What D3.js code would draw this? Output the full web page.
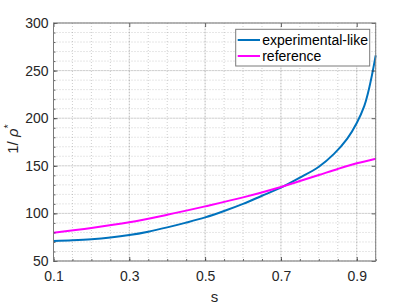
<!DOCTYPE html>
<html>
<head>
<meta charset="utf-8">
<script src="https://cdn.jsdelivr.net/npm/d3@7"></script>
<style>
  body { margin: 0; background: #fff; }
  svg { display: block; font-family: "Liberation Sans", Arial, sans-serif; }
</style>
</head>
<body>
<div id="chart"></div>
<script>
// chart size and plot box
const width = 415;
const height = 306;
const margin = {left: 53.5, right: 39.3, top: 23, bottom: 45};

// data
const sExp = [0.10, 0.15, 0.20, 0.25, 0.30, 0.35, 0.40, 0.45, 0.50, 0.55, 0.60, 0.65, 0.70, 0.75, 0.80, 0.84, 0.875, 0.90, 0.92, 0.93, 0.94, 0.95];
const expValues = [71, 71.7, 72.8, 74.6, 77.2, 80.8, 85.3, 90.3, 95.8, 102.5, 110, 118.5, 127, 137.5, 149, 162.5, 178.5, 195, 213, 227, 245, 266];

const sRef = [0.10, 0.20, 0.30, 0.40, 0.50, 0.60, 0.70, 0.75, 0.80, 0.85, 0.90, 0.95];
const refValues = [79.7, 84.6, 90.6, 98.6, 107.4, 116.8, 127.8, 134, 140.3, 146.7, 152.6, 157.5];

const xTicks = [0.1, 0.3, 0.5, 0.7, 0.9];
const yTicks = [50, 100, 150, 200, 250, 300];
const xMinor = d3.range(0.1, 0.951, 0.05);
const yMinor = d3.range(50, 300.1, 10);

const seriesNames = ["experimental-like", "reference"];
const seriesColors = ["#0072BD", "#FF00FF"];

const svg = d3.select("#chart")
  .append("svg")
  .attr("width", width)
  .attr("height", height);

// scales
const x = d3.scaleLinear()
  .domain([0.1, 0.95])
  .range([margin.left, width - margin.right]);

const y = d3.scaleLinear()
  .domain([50, 300])
  .range([height - margin.bottom, margin.top]);

const x0 = x.range()[0], x1 = x.range()[1];
const y0 = y.range()[0], y1 = y.range()[1];

// grid: minor dotted, major solid
const grid = svg.append("g");
grid.selectAll(".mx")
  .data(xMinor)
  .enter().append("line")
    .attr("x1", d => x(d)).attr("x2", d => x(d))
    .attr("y1", y0).attr("y2", y1)
    .attr("stroke", "#262626").attr("stroke-opacity", 0.22)
    .attr("stroke-dasharray", "1,2");
grid.selectAll(".my")
  .data(yMinor)
  .enter().append("line")
    .attr("x1", x0).attr("x2", x1)
    .attr("y1", d => y(d)).attr("y2", d => y(d))
    .attr("stroke", "#262626").attr("stroke-opacity", 0.22)
    .attr("stroke-dasharray", "1,2");
grid.selectAll(".gx")
  .data(xTicks)
  .enter().append("line")
    .attr("x1", d => x(d)).attr("x2", d => x(d))
    .attr("y1", y0).attr("y2", y1)
    .attr("stroke", "#262626").attr("stroke-opacity", 0.12);
grid.selectAll(".gy")
  .data(yTicks)
  .enter().append("line")
    .attr("x1", x0).attr("x2", x1)
    .attr("y1", d => y(d)).attr("y2", d => y(d))
    .attr("stroke", "#262626").attr("stroke-opacity", 0.12);

// lines
const line = d3.line()
  .x(d => x(d[0]))
  .y(d => y(d[1]))
  .curve(d3.curveCatmullRom.alpha(0.5));

const series = [
  sExp.map((s, i) => [s, expValues[i]]),
  sRef.map((s, i) => [s, refValues[i]])
];

svg.selectAll(".series")
  .data(series)
  .enter().append("path")
    .attr("d", line)
    .attr("fill", "none")
    .attr("stroke", (d, i) => seriesColors[i])
    .attr("stroke-width", 2);

// axes (ticks inward, box on)
const axisColor = "#262626";
function styleAxis(g) {
  g.select(".domain").remove();
  g.selectAll(".tick line").attr("stroke", axisColor).attr("stroke-opacity", 0.7);
  g.selectAll("text").attr("fill", axisColor).attr("font-size", "14px");
}

svg.append("g")
  .attr("transform", `translate(0,${y0})`)
  .call(d3.axisBottom(x).tickValues(xTicks).tickSize(-4).tickPadding(10).tickFormat(d3.format(".1f")))
  .call(styleAxis);
svg.append("g")
  .attr("transform", `translate(${x0},0)`)
  .call(d3.axisLeft(y).tickValues(yTicks).tickSize(-4).tickPadding(5))
  .call(styleAxis);
svg.append("g")
  .attr("transform", `translate(0,${y1})`)
  .call(d3.axisTop(x).tickValues(xTicks).tickSize(-4).tickFormat(""))
  .call(styleAxis);
svg.append("g")
  .attr("transform", `translate(${x1},0)`)
  .call(d3.axisRight(y).tickValues(yTicks).tickSize(-4).tickFormat(""))
  .call(styleAxis);

// minor tick marks
svg.append("g")
  .attr("transform", `translate(0,${y0})`)
  .call(d3.axisBottom(x).tickValues(xMinor).tickSize(-2).tickFormat(""))
  .call(styleAxis);
svg.append("g")
  .attr("transform", `translate(${x0},0)`)
  .call(d3.axisLeft(y).tickValues(yMinor).tickSize(-2).tickFormat(""))
  .call(styleAxis);

// box
svg.append("rect")
  .attr("x", x0).attr("y", y1)
  .attr("width", x1 - x0).attr("height", y0 - y1)
  .attr("fill", "none")
  .attr("stroke", "#7a7a7a")
  .attr("stroke-width", 1);

// axis labels
svg.append("text")
  .attr("x", (x0 + x1) / 2)
  .attr("y", 302)
  .attr("text-anchor", "middle")
  .attr("font-size", "15px")
  .attr("fill", axisColor)
  .text("s");

const ylab = svg.append("text")
  .attr("transform", `translate(18,${(y0 + y1) / 2 - 3}) rotate(-90)`)
  .attr("text-anchor", "middle")
  .attr("font-size", "15px")
  .attr("fill", axisColor);
ylab.append("tspan").text("1/ ");
ylab.append("tspan").attr("font-style", "italic").text("ρ");
ylab.append("tspan").attr("font-size", "11px").attr("dy", "-6").text("*");

// legend
const legend = svg.append("g").attr("transform", "translate(235.7,29.3)");
legend.append("rect")
  .attr("width", 134).attr("height", 36.7)
  .attr("fill", "#fff")
  .attr("stroke", "#7a7a7a");
const rows = legend.selectAll(".row")
  .data(seriesNames)
  .enter().append("g")
    .attr("transform", (d, i) => `translate(0,${10.7 + i * 16})`);
rows.append("line")
  .attr("x1", 2).attr("x2", 24.3)
  .attr("stroke", (d, i) => seriesColors[i])
  .attr("stroke-width", 2);
rows.append("text")
  .attr("x", 26.5)
  .attr("dy", "0.35em")
  .attr("font-size", "14px")
  .attr("fill", "#000")
  .text(d => d);
</script>
</body>
</html>
